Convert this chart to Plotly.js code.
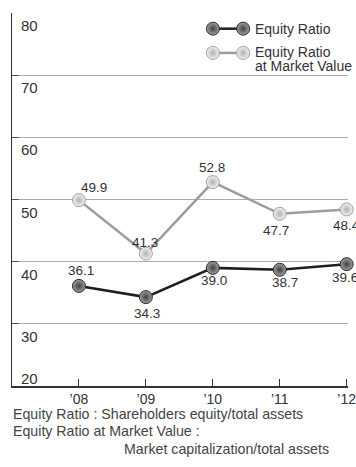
<!DOCTYPE html>
<html>
<head>
<meta charset="utf-8">
<script src="https://cdn.plot.ly/plotly-3.0.1.min.js"></script>
<style>
  html, body { margin: 0; padding: 0; background: #fff; }
  #chart { width: 356px; height: 467px; }
</style>
</head>
<body>
<div id="chart"></div>
<script>
// Fiscal years and ratios (%)
const years = ["\u201908", "\u201909", "\u201910", "\u201911", "\u201912"];
const equityRatio = [36.1, 34.3, 39.0, 38.7, 39.6];
const marketValueRatio = [49.9, 41.3, 52.8, 47.7, 48.4];
const yTicks = [20, 30, 40, 50, 60, 70, 80];
const seriesNames = ["Equity Ratio", "Equity Ratio", "at Market Value"];
const footnotes = [
  "Equity Ratio : Shareholders equity/total assets",
  "Equity Ratio at Market Value :",
  "Market capitalization/total assets"
];

// value-label offsets from each point, in pixels [dx, dy] (dy up is positive)
const marketLabelShift = [[15, 13], [-1, 11], [-1, 15], [-4, -17], [0, -16]];
const equityLabelShift = [[2, 15], [1, -16], [1, -13], [5, -13], [-2, -13]];

const FONT = "Liberation Sans, Arial, sans-serif";
const TXT = "#333333";
const idx = years.map((_, i) => i);

const darkStyle = {
  line: { color: "#1e1e1e", width: 2.5 },
  marker: { size: 13, color: "#a0a0a0", gradient: { type: "radial", color: "#404040" },
            line: { color: "#2a2a2a", width: 1 } }
};
const lightStyle = {
  line: { color: "#9c9c9c", width: 2.5 },
  marker: { size: 13, color: "#f2f2f2", gradient: { type: "radial", color: "#b2b2b2" },
            line: { color: "#a0a0a0", width: 1 } }
};

const traces = [
  Object.assign({
    x: idx, y: marketValueRatio, type: "scatter", mode: "lines+markers",
    cliponaxis: false, hoverinfo: "skip", showlegend: false
  }, lightStyle),
  Object.assign({
    x: idx, y: equityRatio, type: "scatter", mode: "lines+markers",
    cliponaxis: false, hoverinfo: "skip", showlegend: false
  }, darkStyle),
  // legend glyphs: a short segment between two balls
  Object.assign({
    x: [0.598, 0.688], y: [0.958, 0.958], xaxis: "x2", yaxis: "y2",
    type: "scatter", mode: "lines+markers", hoverinfo: "skip", showlegend: false,
    cliponaxis: false
  }, darkStyle),
  Object.assign({
    x: [0.598, 0.688], y: [0.893, 0.893], xaxis: "x2", yaxis: "y2",
    type: "scatter", mode: "lines+markers", hoverinfo: "skip", showlegend: false,
    cliponaxis: false
  }, lightStyle)
];

const annotations = [];
// value labels next to each point
function addValueLabels(values, shifts) {
  values.forEach((v, i) => {
    annotations.push({
      x: idx[i], xref: "x", y: v, yref: "y", text: v.toFixed(1), showarrow: false,
      xanchor: "center", yanchor: "middle",
      xshift: shifts[i][0], yshift: shifts[i][1],
      font: { family: FONT, size: 13.5, color: TXT }
    });
  });
}
addValueLabels(marketValueRatio, marketLabelShift);
addValueLabels(equityRatio, equityLabelShift);

// y tick labels sit just under their gridlines, inside the plot
yTicks.forEach((v, i) => {
  const bottom = i === 0;
  annotations.push({
    x: 0, xref: "paper", y: v, yref: "y", text: String(v), showarrow: false,
    xanchor: "left", yanchor: bottom ? "bottom" : "top",
    xshift: 7, yshift: bottom ? -3 : -2,
    font: { family: FONT, size: 15, color: TXT }
  });
});
// legend labels
const legendY = [0.958, 0.895, 0.858];
seriesNames.forEach((name, i) => {
  annotations.push({
    x: 0.717, xref: "paper", y: legendY[i], yref: "paper", text: name, showarrow: false,
    xanchor: "left", yanchor: "middle",
    font: { family: FONT, size: 14, color: TXT }
  });
});
// footnotes under the axis
const noteY = [-0.076, -0.1206, -0.169];
const noteX = [0, 0, 0.33];
footnotes.forEach((t, i) => {
  annotations.push({
    x: noteX[i], xref: "paper", y: noteY[i], yref: "paper", text: t, showarrow: false,
    xanchor: "left", yanchor: "middle", xshift: -1,
    font: { family: FONT, size: 14.2, color: "#444444" }
  });
});

const layout = {
  width: 356, height: 467,
  margin: { l: 12, r: 8, t: 13, b: 81, pad: 0 },
  paper_bgcolor: "#ffffff", plot_bgcolor: "#ffffff",
  showlegend: false,
  xaxis: {
    range: [-1.0, 4.02], tickvals: idx, ticktext: years,
    showgrid: false, zeroline: false, showline: true, linecolor: "#333333", linewidth: 1.5,
    ticks: "inside", ticklen: 7, tickwidth: 1, tickcolor: "#333333",
    ticklabeloverflow: "allow", ticklabelstandoff: 0,
    tickfont: { family: FONT, size: 14, color: TXT }, fixedrange: true
  },
  yaxis: {
    range: [20, 80], tickvals: yTicks, showticklabels: false,
    showgrid: true, gridcolor: "#ababab", gridwidth: 1, zeroline: false,
    showline: true, linecolor: "#333333", linewidth: 1.5,
    ticks: "inside", ticklen: 7, tickwidth: 1, tickcolor: "#555555", fixedrange: true
  },
  xaxis2: { range: [0, 1], overlaying: "x", visible: false, fixedrange: true },
  yaxis2: { range: [0, 1], overlaying: "y", visible: false, fixedrange: true },
  annotations: annotations
};

Plotly.newPlot("chart", traces, layout, { staticPlot: true, displayModeBar: false });
</script>
</body>
</html>
